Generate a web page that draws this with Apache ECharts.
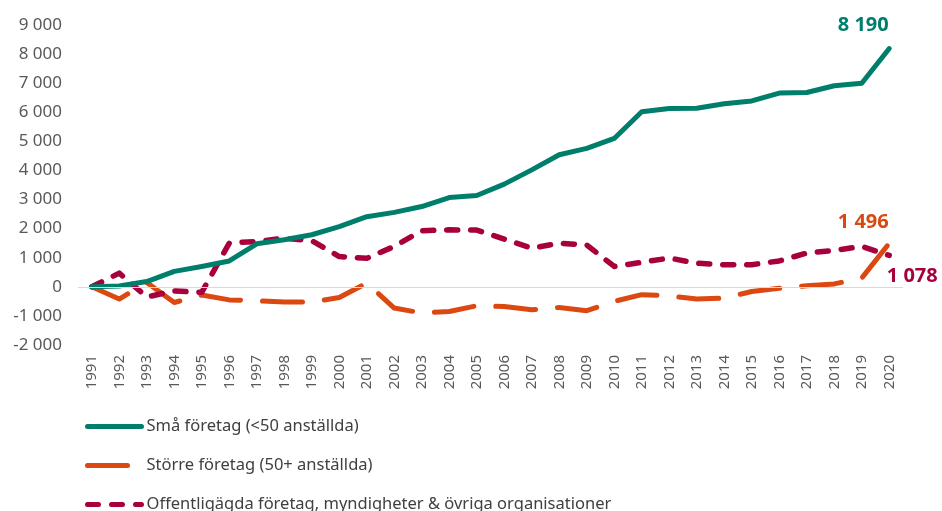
<!DOCTYPE html>
<html lang="sv">

<head>
    <meta charset="UTF-8">
    <style>
        html, body { margin: 0; padding: 0; background: #fff; }
        #main { width: 942px; height: 511px; }
    </style>
    <title>Diagram</title>
</head>

<body>
    <div id="main"></div>
    <script src="https://cdn.jsdelivr.net/npm/echarts@6/dist/echarts.min.js"></script>
    <script>
        var years = ['1991', '1992', '1993', '1994', '1995', '1996', '1997', '1998', '1999', '2000',
            '2001', '2002', '2003', '2004', '2005', '2006', '2007', '2008', '2009', '2010',
            '2011', '2012', '2013', '2014', '2015', '2016', '2017', '2018', '2019', '2020'];
        var names = ['Små företag (<50 anställda)', 'Större företag (50+ anställda)',
            'Offentligägda företag, myndigheter & övriga organisationer'];
        var small = [0, 30, 180, 530, 700, 890, 1480, 1620, 1790, 2070,
            2410, 2560, 2760, 3070, 3140, 3530, 4020, 4540, 4760, 5100,
            6020, 6130, 6140, 6290, 6390, 6660, 6680, 6910, 7000, 8190];
        var large = [0, -420, 150, -540, -280, -450, -480, -525, -525, -370,
            130, -730, -900, -850, -650, -680, -790, -710, -820, -500,
            -270, -310, -420, -390, -160, -50, 40, 100, 300, 1496];
        var publicOrg = [0, 470, -350, -140, -190, 1500, 1560, 1670, 1590, 1040,
            980, 1390, 1930, 1960, 1950, 1640, 1330, 1500, 1440, 700,
            840, 990, 810, 760, 760, 890, 1160, 1250, 1390, 1078];

        var colors = ['#007e6c', '#db4811', '#a8003d'];

        function fmt(v) {
            var s = String(Math.abs(v)).replace(/\B(?=(\d{3})+(?!\d))/g, ' ');
            return (v < 0 ? '-' : '') + s;
        }

        function endLabel(color, offset) {
            return {
                show: true,
                distance: 0,
                align: 'center',
                verticalAlign: 'middle',
                offset: offset,
                formatter: function (p) { return fmt(p.value); },
                color: color,
                fontSize: 20,
                fontWeight: 'bold',
                fontFamily: 'Noto Sans'
            };
        }

        // en legend per serie så att de staplas lodrätt
        function legendItem(i, top) {
            return {
                orient: 'vertical',
                left: 85,
                top: top,
                padding: 0,
                itemWidth: 54,
                itemHeight: 14,
                itemGap: 4,
                data: [names[i]],
                itemStyle: { opacity: 0 },
                lineStyle: { width: 5, cap: 'round' },
                textStyle: { color: '#404040', fontSize: 16.5 }
            };
        }

        var option = {
            backgroundColor: '#fff',
            animation: false,
            textStyle: { fontFamily: 'Noto Sans' },
            legend: [legendItem(0, 418), legendItem(1, 457), legendItem(2, 496)],
            grid: {
                left: 78,
                right: 39,
                top: 25,
                bottom: 166
            },
            xAxis: {
                type: 'category',
                data: years,
                boundaryGap: true,
                axisLine: { show: false, onZero: false },
                axisTick: { show: false },
                axisLabel: {
                    rotate: 90,
                    interval: 0,
                    margin: 10,
                    color: '#595959',
                    fontSize: 15
                }
            },
            yAxis: {
                type: 'value',
                min: -2000,
                max: 9000,
                interval: 1000,
                splitLine: { show: false },
                axisLine: { show: false },
                axisTick: { show: false },
                axisLabel: {
                    margin: 16,
                    color: '#595959',
                    fontSize: 17,
                    formatter: fmt
                }
            },
            series: [{
                name: names[0],
                type: 'line',
                symbol: 'none',
                z: 3,
                color: colors[0],
                lineStyle: { width: 5, color: colors[0], cap: 'round', join: 'round' },
                data: small,
                endLabel: endLabel(colors[0], [-26, -23]),
                markLine: {
                    silent: true,
                    symbol: 'none',
                    label: { show: false },
                    lineStyle: { color: '#d9d9d9', width: 1, type: 'solid' },
                    data: [{ yAxis: 0 }]
                }
            }, {
                name: names[1],
                type: 'line',
                symbol: 'none',
                z: 2,
                color: colors[1],
                lineStyle: { width: 5, color: colors[1], type: [40, 22], cap: 'round', join: 'round' },
                data: large,
                endLabel: endLabel(colors[1], [-26, -21])
            }, {
                name: names[2],
                type: 'line',
                symbol: 'none',
                z: 2,
                color: colors[2],
                lineStyle: { width: 5.5, color: colors[2], type: [11, 13], cap: 'round', join: 'round' },
                data: publicOrg,
                endLabel: endLabel(colors[2], [23, 21])
            }]
        };

        var myChart = echarts.init(document.getElementById('main'));
        myChart.setOption(option);
    </script>
</body>

</html>
